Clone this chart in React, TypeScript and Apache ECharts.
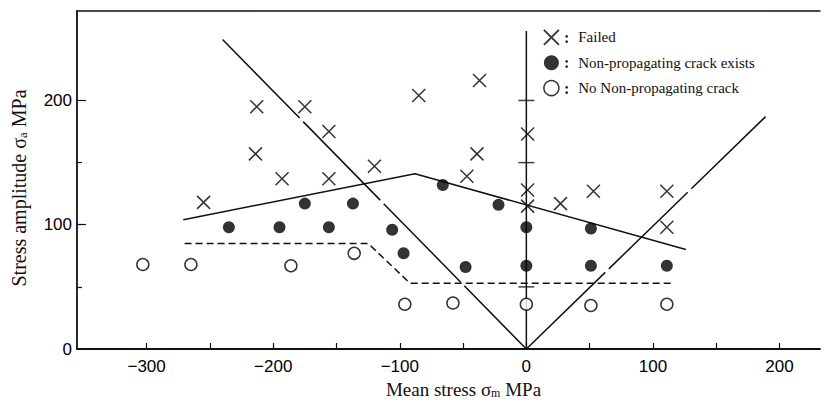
import React, { useEffect, useRef } from "react";
import * as echarts from "echarts";

// ---- Data ----
const failedPts: [number, number][] = [
  [-255, 118], [-213, 195], [-214, 157], [-193, 137], [-175, 195],
  [-156, 175], [-156, 137], [-120, 147], [-85, 204], [-37, 216],
  [-39, 157], [-47, 139], [1, 173], [1, 128], [1, 115],
  [27, 117], [53, 127], [111, 127], [111, 98],
];
const crackPts: [number, number][] = [
  [-235, 98], [-195, 98], [-156, 98], [-175, 117], [-137, 117],
  [-106, 96], [-97, 77], [-66, 132], [-48, 66], [-22, 116],
  [0, 98], [0, 67], [51, 97], [51, 67], [111, 67],
];
const noCrackPts: [number, number][] = [
  [-303, 68], [-265, 68], [-186, 67], [-136, 77], [-96, 36],
  [-58, 37], [0, 36], [51, 35], [111, 36],
];
const upperLimitLine: [number, number][] = [[-271, 104], [-88, 141], [126, 80]];
const lowerLimitLine: [number, number][] = [[-270, 85], [-125, 85], [-92, 53], [115, 53]];
const leftVLine: [number, number][] = [[-240, 249], [0, 0]];
const rightVLine: [number, number][] = [[0, 0], [189, 187]];
const zeroLine: [number, number][] = [[0, 0], [0, 256]];
const zeroLineTicks: [number, number][] = [[0, 50], [0, 150], [0, 200]];

const xTicks = [-300, -250, -200, -150, -100, -50, 0, 50, 100, 150, 200];
const xLabels = [-300, -200, -100, 0, 100, 200];
const yMajorTicks = [100, 200];
const yMinorTicks = [50, 150];
const yLabels = [0, 100, 200];

const seriesNames = ["Failed", "Non-propagating crack exists", "No Non-propagating crack"];

const CROSS = "path://M0,0L10,10M10,0L0,10";

export default function App() {
  const ref = useRef<HTMLDivElement>(null);
  useEffect(() => {
    if (!ref.current) return;
    const chart = echarts.init(ref.current, undefined, { renderer: "svg" });
    const serif = "Liberation Serif";
    const sans = "Liberation Sans";
    const lineStyleSolid = { color: "#111", width: 1.5 };
    chart.setOption({
      animation: false,
      backgroundColor: "#fff",
      grid: { left: 77, right: 6, top: 11, bottom: 55, containLabel: false },
      legend: {
        orient: "vertical",
        left: 538,
        top: 24,
        itemWidth: 15,
        itemHeight: 15,
        itemGap: 9,
        data: [
          { name: seriesNames[0], icon: CROSS, itemStyle: { color: "#000", borderColor: "#000", borderWidth: 1.8 } },
          { name: seriesNames[1], icon: "circle", itemStyle: { color: "#000", borderColor: "#000", borderWidth: 0 } },
          { name: seriesNames[2], icon: "circle", itemStyle: { color: "#fff", borderColor: "#000", borderWidth: 1.5 } },
        ],
        formatter: (name: string) => `{c|:}{t|${name}}`,
        textStyle: {
          rich: {
            c: { fontFamily: serif, fontSize: 16, fontWeight: "bold", color: "#111", padding: [0, 9, 0, 0] },
            t: { fontFamily: serif, fontSize: 15, color: "#111" },
          },
        },
      },
      xAxis: [
        {
          type: "value",
          min: -355,
          max: 232,
          position: "bottom",
          splitLine: { show: false },
          axisLine: { onZero: false, lineStyle: { color: "#111", width: 1.8 } },
          axisTick: { inside: true, length: 6, customValues: xTicks, lineStyle: { color: "#111", width: 1.2 } },
          axisLabel: {
            customValues: xLabels,
            margin: 9,
            fontFamily: sans,
            fontSize: 17,
            color: "#000",
            formatter: (v: number) => String(v).replace("-", "\u2212"),
          },
          name: "{a|Mean stress σ}{s|m}{a| MPa}",
          nameLocation: "middle",
          nameGap: 28,
          nameTextStyle: {
            padding: [0, 0, 0, 30],
            rich: {
              a: { fontFamily: serif, fontSize: 19, color: "#111" },
              s: { fontFamily: serif, fontSize: 12, color: "#111", padding: [7, 0, 0, 0] },
            },
          },
        },
        {
          type: "value",
          min: -355,
          max: 232,
          position: "top",
          splitLine: { show: false },
          axisLine: { show: true, onZero: false, lineStyle: { color: "#111", width: 1.5 } },
          axisTick: { show: false },
          axisLabel: { show: false },
        },
      ],
      yAxis: [
        {
          type: "value",
          min: 0,
          max: 272,
          position: "left",
          splitLine: { show: false },
          axisLine: { onZero: false, lineStyle: { color: "#111", width: 1.8 } },
          axisTick: { inside: true, length: 9, customValues: yMajorTicks, lineStyle: { color: "#111", width: 1.2 } },
          axisLabel: { customValues: yLabels, margin: 5, fontFamily: sans, fontSize: 17, color: "#000" },
          name: "{a|Stress amplitude σ}{s|a}{a| MPa}",
          nameLocation: "middle",
          nameGap: 48,
          nameRotate: 90,
          nameTextStyle: {
            padding: [0, 16, 0, 0],
            rich: {
              a: { fontFamily: serif, fontSize: 20, color: "#111" },
              s: { fontFamily: serif, fontSize: 13, color: "#111", padding: [7, 0, 0, 0] },
            },
          },
        },
        {
          type: "value",
          min: 0,
          max: 272,
          position: "left",
          splitLine: { show: false },
          axisLine: { show: false, onZero: false },
          axisTick: { inside: true, length: 5, customValues: yMinorTicks, lineStyle: { color: "#111", width: 1.2 } },
          axisLabel: { show: false },
        },
      ],
      series: [
        {
          name: "zero",
          type: "line",
          data: zeroLine,
          symbol: "none",
          lineStyle: lineStyleSolid,
          silent: true,
        },
        {
          name: "zeroTicks",
          type: "scatter",
          data: zeroLineTicks,
          symbol: "rect",
          symbolSize: [16, 1.5],
          itemStyle: { color: "#111" },
          silent: true,
        },
        {
          name: "left",
          type: "line",
          data: leftVLine,
          symbol: "none",
          lineStyle: { ...lineStyleSolid, type: [110, 5] },
          silent: true,
        },
        {
          name: "right",
          type: "line",
          data: rightVLine,
          symbol: "none",
          lineStyle: { ...lineStyleSolid, type: [110, 5] },
          silent: true,
        },
        {
          name: "upper",
          type: "line",
          data: upperLimitLine,
          symbol: "none",
          lineStyle: lineStyleSolid,
          silent: true,
        },
        {
          name: "lower",
          type: "line",
          data: lowerLimitLine,
          symbol: "none",
          lineStyle: { color: "#111", width: 1.5, type: [7, 4] },
          silent: true,
        },
        {
          name: seriesNames[0],
          type: "scatter",
          data: failedPts,
          symbol: CROSS,
          symbolSize: 13,
          itemStyle: { color: "#000", borderColor: "#000", borderWidth: 1.5 },
          z: 5,
        },
        {
          name: seriesNames[1],
          type: "scatter",
          data: crackPts,
          symbol: "circle",
          symbolSize: 12,
          itemStyle: { color: "#000", borderColor: "#000", borderWidth: 0 },
          z: 5,
        },
        {
          name: seriesNames[2],
          type: "scatter",
          data: noCrackPts,
          symbol: "circle",
          symbolSize: 12,
          itemStyle: { color: "#fff", borderColor: "#000", borderWidth: 1.5 },
          z: 5,
        },
      ],
    });
    return () => chart.dispose();
  }, []);
  return <div ref={ref} style={{ width: 826, height: 404, position: "fixed", left: 0, top: 0 }} />;
}
